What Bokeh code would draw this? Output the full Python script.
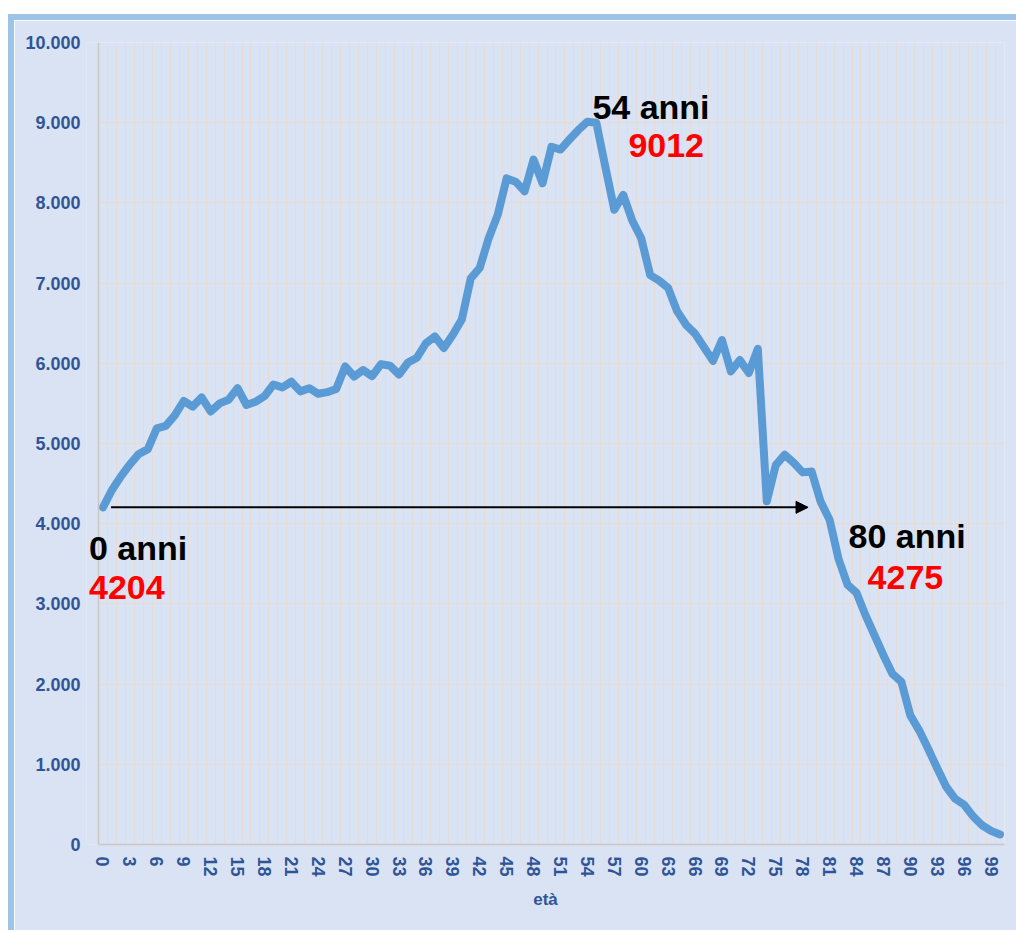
from bokeh.plotting import figure
from bokeh.models import FixedTicker, Label, Arrow, NormalHead, Span, BoxAnnotation
from bokeh.embed import file_html
from bokeh.resources import INLINE

# ---------------- data ----------------
ages = list(range(0, 101))
values = [
    4204, 4420, 4590, 4740, 4870, 4930, 5190, 5220, 5350, 5530,   # 0-9
    5460, 5575, 5400, 5500, 5545, 5690, 5480, 5520, 5590, 5735,   # 10-19
    5700, 5770, 5650, 5690, 5620, 5640, 5680, 5960, 5835, 5915,   # 20-29
    5840, 5990, 5970, 5860, 6010, 6070, 6250, 6335, 6190, 6355,   # 30-39
    6545, 7060, 7190, 7560, 7850, 8305, 8265, 8145, 8540, 8245,   # 40-49
    8700, 8665, 8790, 8910, 9012, 9000, 8450, 7915, 8100, 7780,   # 50-59
    7560, 7100, 7030, 6940, 6650, 6480, 6370, 6200, 6030, 6290,   # 60-69
    5900, 6040, 5880, 6180, 4280, 4730, 4860, 4760, 4640, 4650,   # 70-79
    4275, 4050, 3560, 3240, 3140, 2860, 2610, 2360, 2130, 2030,   # 80-89
    1610, 1420, 1190, 950, 720, 570, 495, 350, 240, 170,          # 90-99
    125,                                                          # 100
]
y_ticks = [0, 1000, 2000, 3000, 4000, 5000, 6000, 7000, 8000, 9000, 10000]
y_tick_labels = ["0", "1.000", "2.000", "3.000", "4.000", "5.000",
                 "6.000", "7.000", "8.000", "9.000", "10.000"]
x_tick_ages = list(range(0, 100, 3))
x_axis_title = "età"

# annotations: (age, label, value label)
ann_ages = [0, 54, 80]
ann_titles = ["0 anni", "54 anni", "80 anni"]
ann_values = ["4204", "9012", "4275"]
arrow_from_age = 0.9
arrow_to_age = 78.6

# ---------------- styles ----------------
BG = "#dae3f3"
PANEL_BORDER = "#9dc3e6"
LINE = "#5b9bd5"
TICK_TXT = "#2f5597"
GRID = "#e3dcd8"
AXIS = "#cbc6c2"
FONT = "Liberation Sans"

x_lo, x_hi = ages[0] - 0.5, ages[-1] + 0.5
px_per_unit = 906 / (x_hi - x_lo)
left_pad_units = 12 / px_per_unit   # extra frame room for the "0 anni" label

p = figure(
    frame_width=918, frame_height=802,
    min_border_left=72, min_border_top=22, min_border_right=12, min_border_bottom=86,
    x_range=(x_lo - left_pad_units, x_hi), y_range=(0, 10000),
    output_backend="svg", toolbar_location=None,
)
p.margin = (14, 0, 0, 8)
p.styles = {"border-top": "6px solid " + PANEL_BORDER,
            "border-left": "6px solid " + PANEL_BORDER}
p.background_fill_color = BG
p.border_fill_color = BG
p.outline_line_color = None

# grids
p.xgrid.ticker = FixedTicker(ticks=[a - 0.5 for a in ages] + [ages[-1] + 0.5])
p.xgrid.grid_line_color = GRID
p.xgrid.grid_line_width = 1
p.ygrid.ticker = FixedTicker(ticks=y_ticks)
p.ygrid.grid_line_color = GRID
p.ygrid.grid_line_width = 1.3

# hide grid stubs left of the value axis
p.add_layout(BoxAnnotation(left=x_lo - left_pad_units, right=x_lo,
                           fill_color=BG, fill_alpha=1.0, line_alpha=0,
                           level="underlay"))

# y axis (labels from the library axis, visible line drawn at the category edge)
p.yaxis.ticker = FixedTicker(ticks=y_ticks)
p.yaxis.major_label_overrides = {t: l for t, l in zip(y_ticks, y_tick_labels)}
p.yaxis.major_tick_out = 0
p.yaxis.major_tick_in = 0
p.yaxis.minor_tick_out = 0
p.yaxis.minor_tick_in = 0
p.yaxis.major_label_standoff = 6
p.yaxis.axis_line_color = None
p.add_layout(Span(location=x_lo, dimension="height",
                  line_color=AXIS, line_width=1.5))

# x axis
p.xaxis.ticker = FixedTicker(ticks=x_tick_ages)
p.xaxis.bounds = (x_lo, x_hi)
p.xaxis.major_label_orientation = "vertical"
p.xaxis.major_tick_out = 0
p.xaxis.major_tick_in = 0
p.xaxis.minor_tick_out = 0
p.xaxis.minor_tick_in = 0
p.xaxis.major_label_standoff = 12
p.xaxis.axis_line_color = AXIS
p.xaxis.axis_line_width = 1.5
p.xaxis.axis_label = x_axis_title
p.xaxis.axis_label_standoff = 10

for ax in (p.xaxis, p.yaxis):
    ax.major_label_text_font = FONT
    ax.major_label_text_font_style = "bold"
    ax.major_label_text_font_size = "18px"
    ax.major_label_text_color = TICK_TXT
    ax.axis_label_text_font = FONT
    ax.axis_label_text_font_style = "bold"
    ax.axis_label_text_font_size = "17px"
    ax.axis_label_text_color = TICK_TXT

# data line
p.line(ages, values, line_width=8, line_color=LINE,
       line_join="round", line_cap="round")

# arrow from 0 anni toward 80 anni
p.add_layout(Arrow(
    end=NormalHead(size=12, fill_color="black", line_color="black"),
    x_start=arrow_from_age, y_start=float(ann_values[0]),
    x_end=arrow_to_age, y_end=float(ann_values[0]),
    line_color="black", line_width=2,
))

# label offsets in screen pixels (title, value) per annotation
offsets = {
    0: ((-14, -41), (-14, -80)),
    54: ((5, 15), (41, -24)),
    80: ((28, -34), (47, -76)),
}
for age, title, val in zip(ann_ages, ann_titles, ann_values):
    (tx, ty), (vx, vy) = offsets[age]
    yv = float(val)
    p.add_layout(Label(x=age, y=yv, x_offset=tx, y_offset=ty, text=title,
                       text_font=FONT, text_font_style="bold",
                       text_font_size="34px", text_color="black",
                       text_baseline="alphabetic", text_align="left"))
    p.add_layout(Label(x=age, y=yv, x_offset=vx, y_offset=vy, text=val,
                       text_font=FONT, text_font_style="bold",
                       text_font_size="34px", text_color="#ff0000",
                       text_baseline="alphabetic", text_align="left"))

open("out.html", "w").write(file_html(p, INLINE))
